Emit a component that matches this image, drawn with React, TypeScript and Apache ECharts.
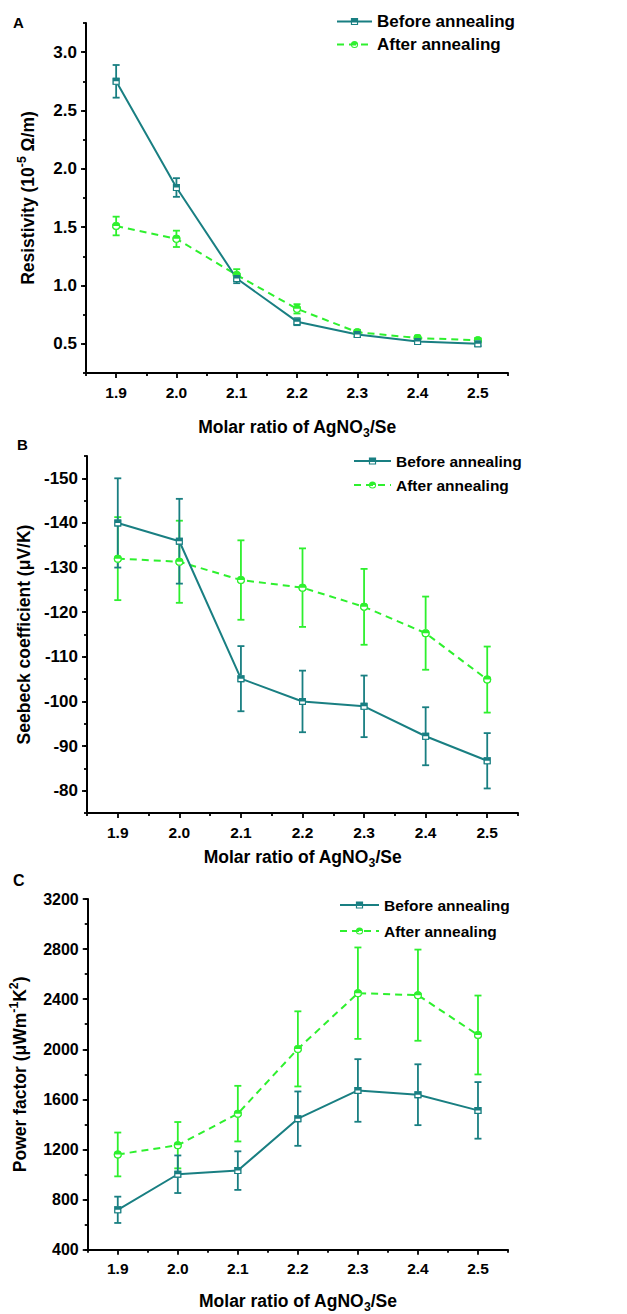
import React, { useEffect, useRef } from "react";
import * as echarts from "echarts";

const xLabels = ["1.9", "2.0", "2.1", "2.2", "2.3", "2.4", "2.5"];

const resBefore = [2.75, 1.84, 1.06, 0.69, 0.58, 0.52, 0.5];
const resBeforeErr = [0.14, 0.08, 0.04, 0.03, 0.02, 0.02, 0.02];
const resAfter = [1.51, 1.4, 1.09, 0.8, 0.6, 0.55, 0.53];
const resAfterErr = [0.08, 0.07, 0.05, 0.04, 0.02, 0.02, 0.02];

const seeBefore = [-140, -135.9, -105.1, -100, -98.9, -92.2, -86.7];
const seeBeforeErr = [10, 9.5, 7.3, 6.9, 6.9, 6.5, 6.2];
const seeAfter = [-132, -131.3, -127.2, -125.5, -121.2, -115.3, -104.9];
const seeAfterErr = [9.3, 9.2, 8.9, 8.8, 8.5, 8.2, 7.4];

const pfBefore = [718, 1002, 1031, 1446, 1671, 1637, 1512];
const pfBeforeErr = [105, 150, 154, 217, 250, 243, 226];
const pfAfter = [1160, 1234, 1486, 2003, 2448, 2432, 2114];
const pfAfterErr = [175, 185, 222, 300, 365, 364, 315];

const seriesNames = ["Before annealing", "After annealing"];
const panelLetters = ["A", "B", "C"];

const TEAL = "#197f82";
const GREEN = "#2ef02e";
const FONT = "'Liberation Sans', Arial, sans-serif";

// half-filled markers (top half filled, bottom half outlined)
const SQUARE_HALF = "path://M0 0H10V10H0Z M1.6 5V8.4H8.4V5Z";
const CIRCLE_HALF = "path://M0 5A5 5 0 1 1 10 5A5 5 0 1 1 0 5Z M1.5 5A3.5 3.5 0 0 0 8.5 5Z";

const tRich = (fs: number) => ({
  t: { fontSize: fs, fontWeight: "bold", fontFamily: FONT, color: "#000", lineHeight: fs + 3 },
  s: { fontSize: fs * 0.7, fontWeight: "bold", fontFamily: FONT, color: "#000", lineHeight: fs * 0.7, padding: [fs * 0.7, 0, 0, 0] },
  p: { fontSize: fs * 0.7, fontWeight: "bold", fontFamily: FONT, color: "#000", lineHeight: fs * 0.7, padding: [0, 0, fs * 0.7, 0] },
});

const errorSeries = (name: string, vals: number[], errs: number[], color: string, k: number) => ({
  type: "custom",
  name,
  xAxisIndex: 2 * k,
  yAxisIndex: 2 * k,
  z: 1,
  silent: true,
  data: vals.map((v, i) => [i, v - errs[i], v + errs[i]]),
  encode: { x: 0, y: [1, 2] },
  renderItem: (params: any, api: any) => {
    const x = api.value(0);
    const lo = api.coord([x, api.value(1)]);
    const hi = api.coord([x, api.value(2)]);
    const cap = 3.5;
    const style = { stroke: color, lineWidth: 1.8 };
    return {
      type: "group",
      children: [
        { type: "line", shape: { x1: lo[0], y1: lo[1], x2: hi[0], y2: hi[1] }, style },
        { type: "line", shape: { x1: hi[0] - cap, y1: hi[1], x2: hi[0] + cap, y2: hi[1] }, style },
        { type: "line", shape: { x1: lo[0] - cap, y1: lo[1], x2: lo[0] + cap, y2: lo[1] }, style },
      ],
    };
  },
});

const markerSeries = (name: string, vals: number[], k: number, shape: string, bg: string, size: number, color: string, z: number) => [
  {
    type: "scatter",
    name: name + "-bg",
    xAxisIndex: 2 * k,
    yAxisIndex: 2 * k,
    data: vals,
    z,
    silent: true,
    symbol: bg,
    symbolSize: size - 1,
    itemStyle: { color: "#ffffff", opacity: 1 },
  },
  {
    type: "scatter",
    name: name + "-mk",
    xAxisIndex: 2 * k,
    yAxisIndex: 2 * k,
    data: vals,
    z: z + 1,
    silent: true,
    symbol: shape,
    symbolSize: size,
    itemStyle: { color, opacity: 1 },
  },
];

type Panel = {
  grid: { left: number; top: number; width: number; height: number };
  before: number[];
  beforeErr: number[];
  after: number[];
  afterErr: number[];
  yMin: number;
  yMax: number;
  yMajor: number;
  yMinor: number;
  inverse: boolean;
  showEnds: boolean;
  yFont: number;
  yName: string;
  yNameGap: number;
  xNameGap: number;
  legend: { left: number; top: number; gap: number; font: number; iw: number };
  letterTop: number;
  letterLeft: number;
  letterFont: number;
};

const panels: Panel[] = [
  {
    grid: { left: 86, top: 23, width: 422, height: 350 },
    before: resBefore,
    beforeErr: resBeforeErr,
    after: resAfter,
    afterErr: resAfterErr,
    yMin: 0.25,
    yMax: 3.25,
    yMajor: 0.5,
    yMinor: 0.25,
    inverse: false,
    showEnds: false,
    yFont: 17,
    yName: "{t|Resistivity (10}{p|-5}{t| Ω/m)}",
    yNameGap: 48,
    xNameGap: 44,
    legend: { left: 336, top: 13, gap: 6, font: 17, iw: 35 },
    letterTop: 15,
    letterLeft: 13,
    letterFont: 15,
  },
  {
    grid: { left: 87, top: 456, width: 431, height: 357 },
    before: seeBefore,
    beforeErr: seeBeforeErr,
    after: seeAfter,
    afterErr: seeAfterErr,
    yMin: -155,
    yMax: -75,
    yMajor: 10,
    yMinor: 5,
    inverse: true,
    showEnds: false,
    yFont: 17,
    yName: "{t|Seebeck coefficient (μV/K)}",
    yNameGap: 52,
    xNameGap: 34,
    legend: { left: 353, top: 453, gap: 8, font: 15.5, iw: 37 },
    letterTop: 437,
    letterLeft: 17,
    letterFont: 15,
  },
  {
    grid: { left: 86, top: 899, width: 422, height: 353 },
    before: pfBefore,
    beforeErr: pfBeforeErr,
    after: pfAfter,
    afterErr: pfAfterErr,
    yMin: 400,
    yMax: 3200,
    yMajor: 400,
    yMinor: 200,
    inverse: false,
    showEnds: true,
    yFont: 16,
    yName: "{t|Power factor (μWm}{p|-1}{t|K}{p|2}{t|)}",
    yNameGap: 52,
    xNameGap: 41,
    legend: { left: 339, top: 897, gap: 10, font: 15.5, iw: 39 },
    letterTop: 872,
    letterLeft: 13,
    letterFont: 16,
  },
];

const buildOption = () => {
  const grids: any[] = [];
  const xAxes: any[] = [];
  const yAxes: any[] = [];
  const series: any[] = [];
  const legends: any[] = [];
  const titles: any[] = [];
  const tickLine = { color: "#000", width: 1.8 };

  panels.forEach((p, k) => {
    grids.push({ ...p.grid, containLabel: false });
    xAxes.push({
      type: "category",
      gridIndex: k,
      position: "bottom",
      data: xLabels,
      boundaryGap: true,
      axisLine: { show: true, lineStyle: { color: "#000", width: 2 } },
      axisTick: { show: true, alignWithLabel: true, interval: 0, length: 5, lineStyle: tickLine },
      axisLabel: { interval: 0, margin: 11, fontSize: 15.5, fontWeight: "bold", color: "#000", fontFamily: FONT },
      splitLine: { show: false },
      name: "{t|Molar ratio of AgNO}{s|3}{t|/Se}",
      nameLocation: "middle",
      nameGap: p.xNameGap,
      nameTextStyle: { rich: tRich(17.5) },
    });
    xAxes.push({
      type: "category",
      gridIndex: k,
      position: "bottom",
      data: xLabels,
      boundaryGap: true,
      axisLine: { show: false },
      axisTick: { show: true, alignWithLabel: false, interval: 0, length: 3, lineStyle: tickLine },
      axisLabel: { show: false },
      splitLine: { show: false },
    });
    yAxes.push({
      type: "value",
      gridIndex: k,
      position: "left",
      min: p.yMin,
      max: p.yMax,
      inverse: p.inverse,
      splitNumber: Math.round((p.yMax - p.yMin) / p.yMajor),
      minInterval: p.yMajor,
      maxInterval: p.yMajor,
      axisLine: { show: true, lineStyle: { color: "#000", width: 2 } },
      axisTick: { show: true, length: 5, lineStyle: tickLine },
      axisLabel: {
        showMinLabel: p.showEnds,
        showMaxLabel: p.showEnds,
        margin: 9,
        fontSize: p.yFont,
        fontWeight: "bold",
        color: "#000",
        fontFamily: FONT,
        formatter: (v: number) => (p.yMajor < 1 ? v.toFixed(1) : String(Math.round(v))),
      },
      splitLine: { show: false },
      name: p.yName,
      nameLocation: "middle",
      nameRotate: 90,
      nameGap: p.yNameGap,
      nameTextStyle: { rich: tRich(17.5) },
    });
    yAxes.push({
      type: "value",
      gridIndex: k,
      position: "left",
      min: p.yMin,
      max: p.yMax,
      inverse: p.inverse,
      interval: p.yMinor,
      axisLine: { show: false },
      axisTick: { show: true, length: 3, lineStyle: tickLine },
      axisLabel: { show: false },
      splitLine: { show: false },
    });

    series.push(errorSeries("err-after-" + k, p.after, p.afterErr, GREEN, k));
    series.push(errorSeries("err-before-" + k, p.before, p.beforeErr, TEAL, k));
    series.push({
      type: "line",
      name: seriesNames[1],
      xAxisIndex: 2 * k,
      yAxisIndex: 2 * k,
      data: p.after,
      z: 3,
      symbol: CIRCLE_HALF,
      symbolSize: 8,
      lineStyle: { color: GREEN, width: 2, type: [7, 5] },
      itemStyle: { color: GREEN },
    });
    series.push({
      type: "line",
      name: seriesNames[0],
      xAxisIndex: 2 * k,
      yAxisIndex: 2 * k,
      data: p.before,
      z: 4,
      symbol: SQUARE_HALF,
      symbolSize: 7,
      lineStyle: { color: TEAL, width: 2 },
      itemStyle: { color: TEAL },
    });
    series.push(...markerSeries("after-" + k, p.after, k, CIRCLE_HALF, "circle", 8, GREEN, 5));
    series.push(...markerSeries("before-" + k, p.before, k, SQUARE_HALF, "rect", 7, TEAL, 7));

    legends.push({
      data: seriesNames,
      orient: "vertical",
      left: p.legend.left,
      top: p.legend.top,
      padding: 0,
      itemGap: p.legend.gap,
      itemWidth: p.legend.iw,
      itemHeight: 9,
      selectedMode: false,
      textStyle: { fontSize: p.legend.font, fontWeight: "bold", color: "#000", fontFamily: FONT },
    });

    titles.push({
      text: panelLetters[k],
      left: p.letterLeft,
      top: p.letterTop,
      padding: 0,
      textStyle: { fontSize: p.letterFont, fontWeight: "bold", color: "#000", fontFamily: FONT },
    });
  });

  return {
    animation: false,
    backgroundColor: "#ffffff",
    title: titles,
    legend: legends,
    grid: grids,
    xAxis: xAxes,
    yAxis: yAxes,
    series,
  };
};

export default function App() {
  const ref = useRef<HTMLDivElement>(null);
  useEffect(() => {
    document.body.style.margin = "0";
    if (!ref.current) return;
    const chart = echarts.init(ref.current, undefined, { renderer: "svg" });
    chart.setOption(buildOption() as any);
    return () => {
      chart.dispose();
    };
  }, []);
  return <div ref={ref} style={{ width: 627, height: 1314 }} />;
}
